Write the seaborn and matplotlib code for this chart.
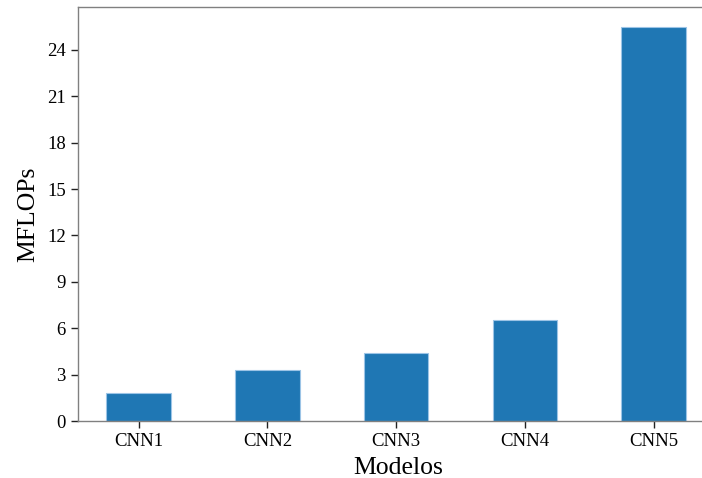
import matplotlib
matplotlib.use("Agg")
import matplotlib.pyplot as plt
import seaborn as sns
import pandas as pd

modelos = ["CNN1", "CNN2", "CNN3", "CNN4", "CNN5"]
mflops = [1.83, 3.30, 4.38, 6.53, 25.5]
yticks = [0, 3, 6, 9, 12, 15, 18, 21, 24]

sns.set_style("ticks")
plt.rcParams["font.family"] = ["Liberation Serif", "DejaVu Serif"]
plt.rcParams["text.color"] = "black"
plt.rcParams["axes.labelcolor"] = "black"
plt.rcParams["xtick.color"] = "black"
plt.rcParams["ytick.color"] = "black"

df = pd.DataFrame({"Modelos": modelos, "MFLOPs": mflops})

fig = plt.figure(figsize=(7.02, 4.78), dpi=100)
ax = fig.add_axes([0.1107, 0.1192, 0.912, 0.8662])

sns.barplot(data=df, x="Modelos", y="MFLOPs", color="#1f77b4", saturation=1,
            width=0.5, edgecolor="#9cc4e6", linewidth=0.8, ax=ax)

ax.set_xlim(-0.473, 4.5)
ax.set_ylim(0, 26.78)
ax.set_yticks(yticks)
ax.set_xlabel("Modelos", fontsize=18.5, labelpad=5)
ax.set_ylabel("MFLOPs", fontsize=18.5, labelpad=6)
ax.tick_params(axis="both", labelsize=13.5, length=5, width=1, color="#222222")

for side in ["left", "bottom", "top", "right"]:
    ax.spines[side].set_visible(True)
    ax.spines[side].set_color("#808080")
    ax.spines[side].set_linewidth(1.0)

fig.savefig("out.png", dpi=100)
